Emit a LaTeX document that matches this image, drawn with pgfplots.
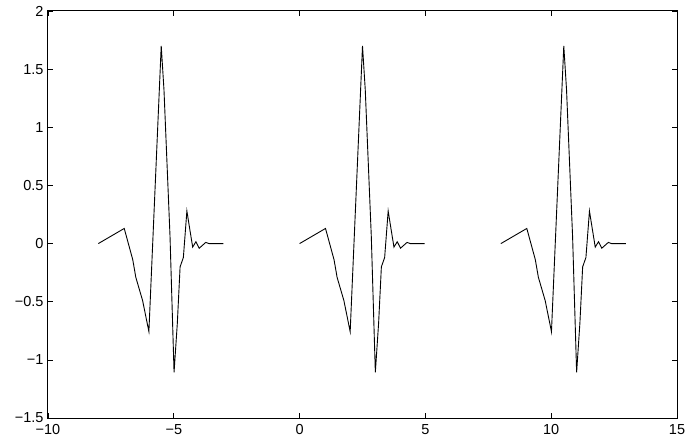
\documentclass[border=0pt]{standalone}
\usepackage{pgfplots}
\pgfplotsset{compat=1.18}
\usepackage{fontspec}
\setmainfont{Liberation Sans}
\begin{document}
\begin{tikzpicture}
\begin{axis}[
  scale only axis,
  width=629pt, height=407pt,
  xmin=-10, xmax=15, ymin=-1.5, ymax=2,
  xtick={-10,-5,0,5,10,15},
  xticklabels={−10,−5,0,5,10,15},
  ytick={-1.5,-1,-0.5,0,0.5,1,1.5,2},
  yticklabels={−1.5,−1,−0.5,0,0.5,1,1.5,2},
  tick align=inside,
  major tick length=5pt,
  tick style={black, line width=0.7pt},
  axis line style={line width=1pt},
  tick label style={font=\fontsize{14.5}{16}\selectfont},
  yticklabel style={xshift=-1pt},
  xticklabel style={yshift=-3pt},
]
\addplot[black, line width=0.9pt] coordinates {
(-8,0) (-6.97,0.13) (-6.63,-0.14) (-6.51,-0.29) (-6.24,-0.49) (-5.99,-0.757)
(-5.5,1.70) (-5.39,1.32) (-5.15,0.06) (-4.99,-1.107) (-4.86,-0.685) (-4.75,-0.20)
(-4.62,-0.12) (-4.48,0.28) (-4.36,0.117) (-4.25,-0.03) (-4.12,0.016) (-3.99,-0.04)
(-3.73,0.01) (-3.6,0) (-3.03,0)
};
\addplot[black, line width=0.9pt] coordinates {
(0,0) (1.03,0.13) (1.37,-0.14) (1.49,-0.29) (1.76,-0.49) (2.01,-0.757)
(2.5,1.70) (2.61,1.32) (2.85,0.06) (3.01,-1.107) (3.14,-0.685) (3.25,-0.20)
(3.38,-0.12) (3.52,0.28) (3.64,0.117) (3.75,-0.03) (3.88,0.016) (4.01,-0.04)
(4.27,0.01) (4.4,0) (4.97,0)
};
\addplot[black, line width=0.9pt] coordinates {
(8,0) (9.03,0.13) (9.37,-0.14) (9.49,-0.29) (9.76,-0.49) (10.01,-0.757)
(10.5,1.70) (10.61,1.32) (10.85,0.06) (11.01,-1.107) (11.14,-0.685) (11.25,-0.20)
(11.38,-0.12) (11.52,0.28) (11.64,0.117) (11.75,-0.03) (11.88,0.016) (12.01,-0.04)
(12.27,0.01) (12.4,0) (12.97,0)
};
\end{axis}
\pgfresetboundingbox
\path (current axis.south west) ++(-48pt,-22pt) coordinate (bl);
\path (current axis.north east) ++(9pt,11pt) coordinate (tr);
\path[use as bounding box] (bl) rectangle (tr);
\end{tikzpicture}
\end{document}
